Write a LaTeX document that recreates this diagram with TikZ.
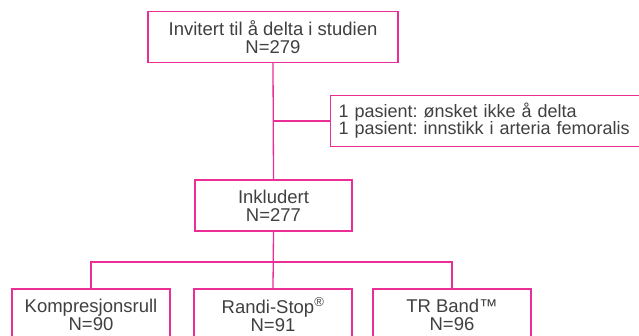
\documentclass[tikz,border=0pt]{standalone}
\usepackage{fontspec}
\setmainfont{Liberation Sans}
\definecolor{rosa}{RGB}{234,46,150}
\definecolor{tekst}{RGB}{64,64,64}
\frenchspacing
\begin{document}
\begin{tikzpicture}[x=1pt,y=1pt]
\tikzstyle{every node}+=[text=tekst,font=\fontsize{18.5}{18}\selectfont]
\tikzstyle{boks}=[draw=rosa,line width=1.3pt,align=center,inner sep=0pt,minimum height=51]
\tikzstyle{linje}=[draw=rosa,line width=1.3pt]
\clip (0,0) rectangle (639,-336);
\node [boks,minimum width=250] (invit) at (273,-37) {Invitert til å delta i studien\\N=279};
\node [boks,anchor=west,align=left,text width=305,inner xsep=8,font=\fontsize{18}{17}\selectfont] (utelatt) at (330,-121) {1 pasient: ønsket ikke å delta\\1 pasient: innstikk i arteria femoralis};
\node [boks,minimum width=157] (inkl) at (273.5,-205.5) {Inkludert\\N=277};
\node [boks,minimum width=158] (kompr) at (91,-314.5) {Kompresjonsrull\\N=90};
\node [boks,minimum width=158] (randi) at (273,-314.5) {Randi-Stop\textsuperscript{®}\\N=91};
\node [boks,minimum width=158] (trband) at (452,-314.5) {TR Band™\\N=96};
\coordinate (gren) at (273,-121);
\coordinate (fordel) at (273,-262);
\draw [linje] (invit.south) -- (inkl.north);
\draw [linje] (gren) -- (utelatt.west);
\draw [linje] (inkl.south) -- (randi.north);
\draw [linje] (kompr.north) -- (kompr.north |- fordel) -- (trband.north |- fordel) -- (trband.north);
\end{tikzpicture}
\end{document}
